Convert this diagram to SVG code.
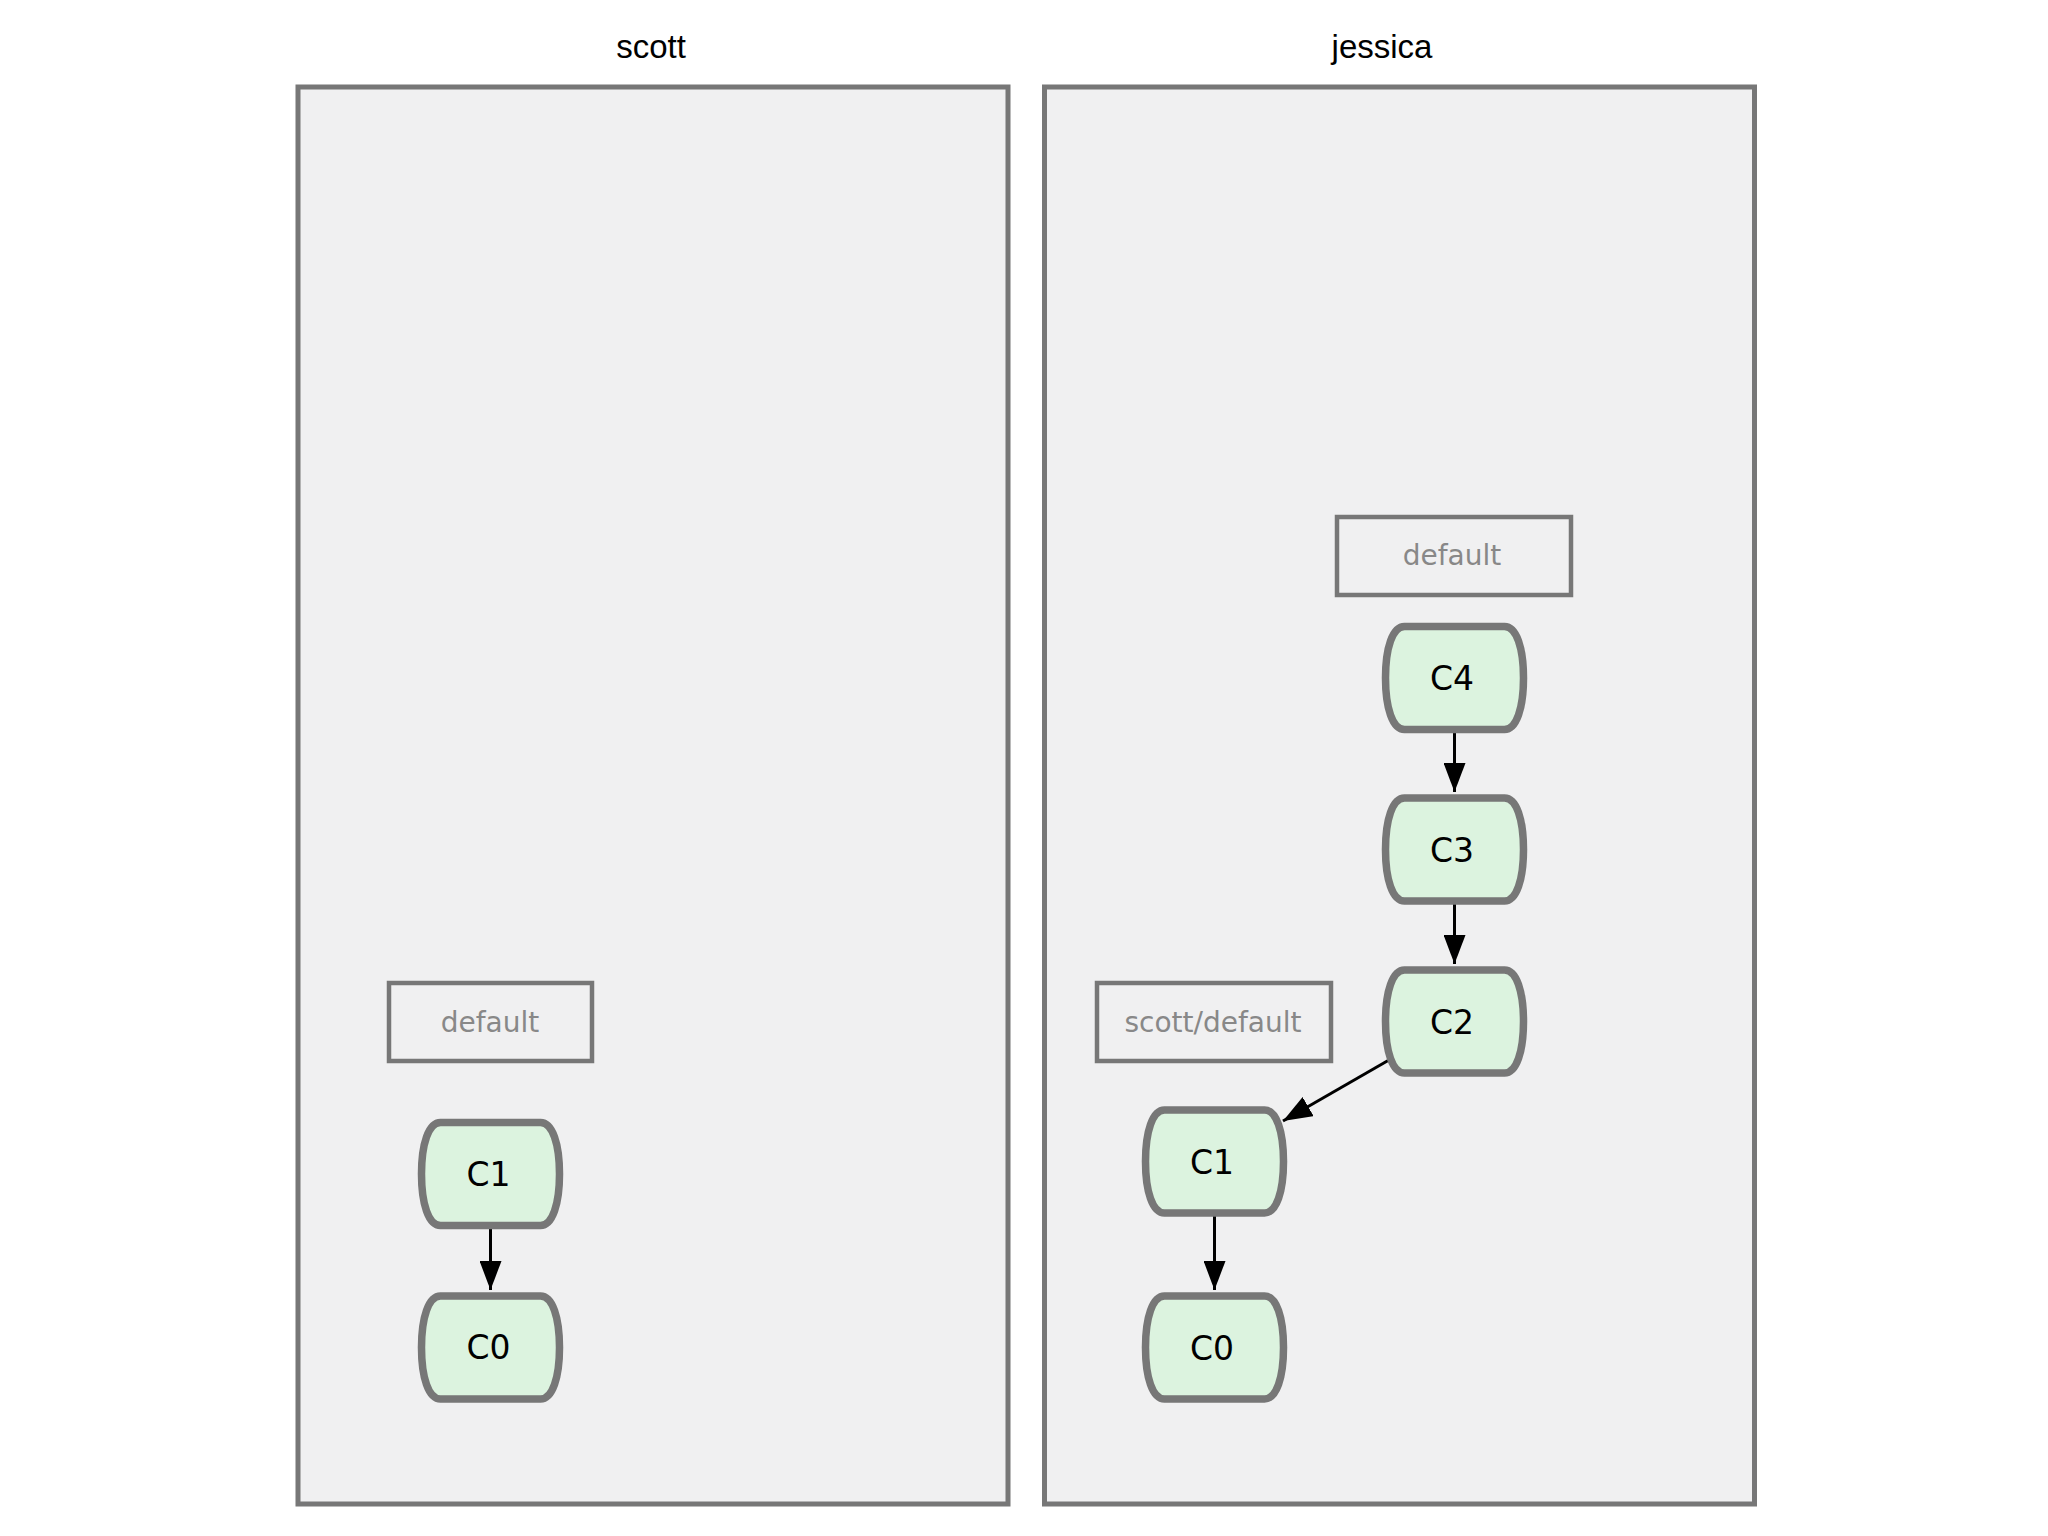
<svg xmlns="http://www.w3.org/2000/svg" xmlns:xlink="http://www.w3.org/1999/xlink" width="2048" height="1536" viewBox="0 0 2048 1536">
  <style>
    .panel { fill: #f0f0f1; stroke: #777777; stroke-width: 5; }
    .title { font-family: "Liberation Sans", Arial, sans-serif; font-size: 33px; fill: #000000; text-anchor: middle; }
    .commit { fill: #dcf3df; stroke: #777777; stroke-width: 7.5; }
    .ctext { font-family: "DejaVu Sans", "Noto Sans", sans-serif; font-size: 33px; fill: #000000; text-anchor: middle; }
    .ref { fill: none; stroke: #777777; stroke-width: 4.5; }
    .rtext { font-family: "DejaVu Sans", "Noto Sans", sans-serif; font-size: 28px; fill: #888888; text-anchor: middle; }
    .edge { stroke: #000000; stroke-width: 3; fill: none; marker-end: url(#arrow); }
  </style>
  <defs>
    <marker id="arrow" markerUnits="userSpaceOnUse" markerWidth="29" markerHeight="22" refX="29" refY="11" orient="auto">
      <path d="M0,0 L29,11 L0,22 Z" fill="#000000"/>
    </marker>
    <path id="commitShape" d="M -50,-51.5 H 50 C 62,-51.5 69,-30 69,0 C 69,30 62,51.5 50,51.5 H -50 C -62,51.5 -69,30 -69,0 C -69,-30 -62,-51.5 -50,-51.5 Z"/>
  </defs>

  <rect width="2048" height="1536" fill="#ffffff"/>

  <g id="panel-scott">
    <rect class="panel" x="298" y="87" width="710" height="1417"/>
    <text class="title" x="651" y="58">scott</text>
  </g>
  <g id="panel-jessica">
    <rect class="panel" x="1044.5" y="87" width="710" height="1417"/>
    <text class="title" x="1382" y="58">jessica</text>
  </g>

  <g id="connectors">
    <line class="edge" x1="490.5" y1="1228" x2="490.5" y2="1290"/>
    <line class="edge" x1="1454.5" y1="732" x2="1454.5" y2="792"/>
    <line class="edge" x1="1454.5" y1="904" x2="1454.5" y2="964"/>
    <line class="edge" x1="1389" y1="1060" x2="1283" y2="1121"/>
    <line class="edge" x1="1214.5" y1="1216" x2="1214.5" y2="1290"/>
  </g>

  <g id="scott-default">
    <rect class="ref" x="389" y="983" width="203" height="78"/>
    <text class="rtext" x="490" y="1032">default</text>
  </g>
  <g id="scott-C1">
    <use href="#commitShape" class="commit" transform="translate(490.5,1174)"/>
    <text class="ctext" x="488.5" y="1186">C1</text>
  </g>
  <g id="scott-C0">
    <use href="#commitShape" class="commit" transform="translate(490.5,1347.5)"/>
    <text class="ctext" x="488.5" y="1359">C0</text>
  </g>

  <g id="jessica-default">
    <rect class="ref" x="1337" y="517" width="234" height="78"/>
    <text class="rtext" x="1452" y="565">default</text>
  </g>
  <g id="jessica-scott-default">
    <rect class="ref" x="1097" y="983" width="234" height="78"/>
    <text class="rtext" x="1213" y="1032">scott/default</text>
  </g>
  <g id="jessica-C4">
    <use href="#commitShape" class="commit" transform="translate(1454.5,678)"/>
    <text class="ctext" x="1452" y="690">C4</text>
  </g>
  <g id="jessica-C3">
    <use href="#commitShape" class="commit" transform="translate(1454.5,849.5)"/>
    <text class="ctext" x="1452" y="861.5">C3</text>
  </g>
  <g id="jessica-C2">
    <use href="#commitShape" class="commit" transform="translate(1454.5,1021.5)"/>
    <text class="ctext" x="1452" y="1033.5">C2</text>
  </g>
  <g id="jessica-C1">
    <use href="#commitShape" class="commit" transform="translate(1214.5,1161.5)"/>
    <text class="ctext" x="1212" y="1173.5">C1</text>
  </g>
  <g id="jessica-C0">
    <use href="#commitShape" class="commit" transform="translate(1214.5,1347.5)"/>
    <text class="ctext" x="1212" y="1359.5">C0</text>
  </g>
</svg>
